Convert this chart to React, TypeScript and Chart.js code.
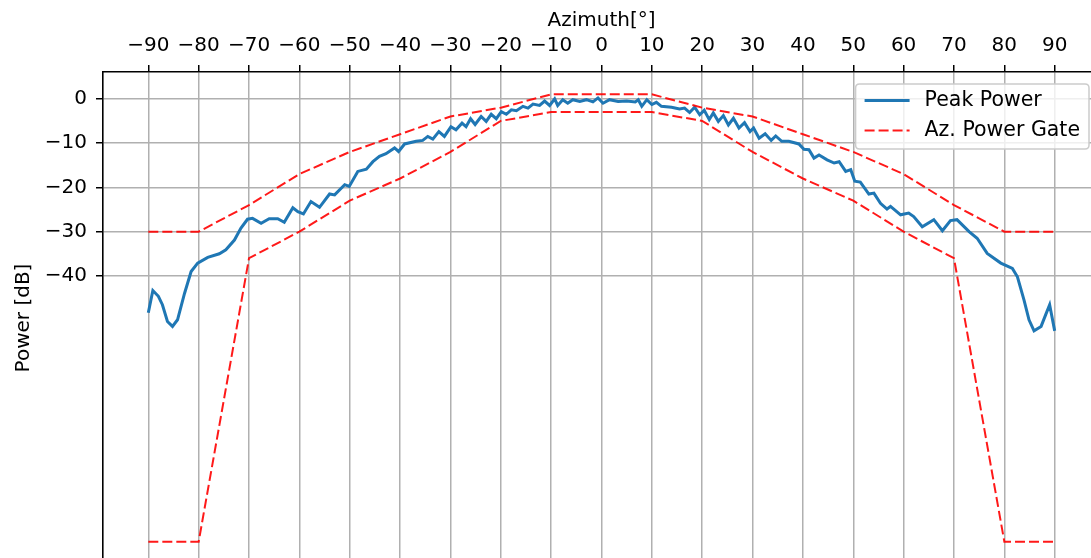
import React, { useEffect, useRef } from "react";
import { Chart, registerables } from "chart.js";

Chart.register(...registerables);

// Peak power measurement
const azimuth = [
  -90, -89.1, -88, -87.2, -86.2, -85.2, -84.2, -82.8, -81.5, -80.2, -78.2, -75.9, -74.6, -72.9, -71.6, -70.3,
  -69.3, -67.6, -66, -64.3, -63, -61.3, -60.3, -59.2, -57.7, -56, -54, -53, -51, -50.1, -48.4, -46.7, -45.4,
  -44.1, -42.8, -41.1, -40.3, -39.1, -36.8, -35.5, -34.5, -33.5, -32.3, -31.2, -29.9, -28.9, -27.7, -26.9,
  -26.0, -25.1, -23.9, -22.9, -21.9, -20.9, -19.9, -18.9, -17.9, -16.9, -15.6, -14.6, -13.6, -12.3, -11.3,
  -10.3, -9.3, -8.7, -7.7, -6.7, -5.7, -4.3, -3.0, -1.7, -0.7, 0.3, 1.6, 3.3, 5.0, 6.7, 7.3, 8.0, 9.0, 10.0,
  10.9, 11.9, 13.9, 15.5, 16.5, 17.5, 18.5, 19.5, 20.4, 21.4, 22.2, 23.2, 24.2, 25.2, 26.2, 27.3, 28.4, 29.5,
  30.2, 31.3, 32.5, 33.7, 34.6, 35.8, 37.2, 39.2, 40.2, 41.2, 42.2, 43.2, 44.8, 46.2, 47.2, 48.5, 49.5, 50.3,
  51.4, 53.1, 54.1, 55.4, 56.7, 57.4, 59.4, 61.0, 62.0, 63.7, 66.0, 67.7, 69.3, 70.6, 73.0, 74.6, 76.6, 79.3,
  81.6, 82.6, 83.9, 84.9, 85.9, 87.3, 88.2, 89.0, 90.0,
];
const peakPower = [
  -48.3, -43.3, -44.6, -46.5, -50.3, -51.4, -49.9, -43.9, -39.0, -37.1, -35.8, -35.0, -34.1, -31.9, -29.2, -27.2,
  -27.0, -28.1, -27.1, -27.1, -27.9, -24.6, -25.5, -26.0, -23.2, -24.5, -21.5, -21.7, -19.4, -19.8, -16.4, -15.9, -14.2,
  -13.0, -12.4, -11.1, -11.9, -10.2, -9.6, -9.4, -8.5, -9.1, -7.4, -8.5, -6.3, -7.0, -5.5, -6.3,
  -4.5, -5.8, -4.0, -5.1, -3.5, -4.5, -2.9, -3.5, -2.5, -2.7, -1.7, -2.1, -1.2, -1.5, -0.5,
  -1.5, 0.0, -1.5, -0.2, -1.0, -0.2, -0.6, -0.2, -0.7, 0.2, -1.0, -0.2, -0.6, -0.5, -0.7, -0.2, -1.7, -0.2, -1.3,
  -0.8, -1.7, -1.9, -2.3, -2.1, -3.1, -1.9, -3.6, -2.6, -4.7, -3.2, -5.1, -3.8, -5.9, -4.4, -6.6, -5.4, -7.4,
  -6.6, -8.9, -7.9, -9.4, -8.4, -9.6, -9.6, -10.2, -11.4, -11.5, -13.4, -12.7, -13.8, -14.5, -14.2, -16.4, -16.0, -18.6,
  -18.8, -21.5, -21.3, -23.6, -24.9, -24.3, -26.2, -25.8, -26.6, -28.9, -27.3, -29.8, -27.5, -27.3, -30.0, -31.5, -34.9, -37.1,
  -38.3, -40.2, -45.4, -49.9, -52.4, -51.4, -48.8, -46.5, -52.4,
];

// Azimuth power gate
const gateAzimuth = [-90, -80, -70, -60, -50, -40, -30, -20, -10, 0, 10, 20, 30, 40, 50, 60, 70, 80, 90];
const gateUpper = [-30, -30, -24, -17, -12, -8, -4, -2, 1, 1, 1, -2, -4, -8, -12, -17, -24, -30, -30];
const gateLower = [-100, -100, -36, -30, -23, -18, -12, -5, -3, -3, -3, -5, -12, -18, -23, -30, -36, -100, -100];

const xTicks = [-90, -80, -70, -60, -50, -40, -30, -20, -10, 0, 10, 20, 30, 40, 50, 60, 70, 80, 90];
const yTicks = [0, -10, -20, -30, -40];

const seriesNames = ["Peak Power", "Az. Power Gate"];

const FONT = "'DejaVu Sans', sans-serif";
const BLUE = "#1f77b4";
const RED = "rgba(255,0,0,0.9)";

const legendPlugin = {
  id: "mplLegend",
  afterDraw(chart: any) {
    const ctx = chart.ctx;
    const area = chart.chartArea;
    ctx.save();
    ctx.font = `20.5px ${FONT}`;
    const tw = Math.max(...seriesNames.map((s) => ctx.measureText(s).width));
    const w = 8 + 45 + 15 + tw + 10;
    const h = 65;
    const right = area.right - 11;
    const left = right - w;
    const top = area.top + 12;
    // frame
    ctx.beginPath();
    const r = 4;
    ctx.moveTo(left + r, top);
    ctx.lineTo(left + w - r, top);
    ctx.quadraticCurveTo(left + w, top, left + w, top + r);
    ctx.lineTo(left + w, top + h - r);
    ctx.quadraticCurveTo(left + w, top + h, left + w - r, top + h);
    ctx.lineTo(left + r, top + h);
    ctx.quadraticCurveTo(left, top + h, left, top + h - r);
    ctx.lineTo(left, top + r);
    ctx.quadraticCurveTo(left, top, left + r, top);
    ctx.closePath();
    ctx.fillStyle = "rgba(255,255,255,0.8)";
    ctx.fill();
    ctx.strokeStyle = "#cccccc";
    ctx.lineWidth = 1.5;
    ctx.stroke();
    // rows
    const rows = [top + 16.5, top + 46.5];
    const styles = [
      { color: BLUE, width: 3, dash: [] as number[] },
      { color: RED, width: 2, dash: [10, 4] },
    ];
    rows.forEach((y, i) => {
      ctx.beginPath();
      ctx.setLineDash(styles[i].dash);
      ctx.strokeStyle = styles[i].color;
      ctx.lineWidth = styles[i].width;
      ctx.moveTo(left + 9, y);
      ctx.lineTo(left + 54, y);
      ctx.stroke();
      ctx.setLineDash([]);
      ctx.fillStyle = "#000";
      ctx.textBaseline = "middle";
      ctx.textAlign = "left";
      ctx.fillText(seriesNames[i], left + 69, y);
    });
    ctx.restore();
  },
};

const minus = (v: any) => (Number(v) < 0 ? "\u2212" + Math.abs(Number(v)) : String(v));

export default function App() {
  const ref = useRef<HTMLCanvasElement | null>(null);

  useEffect(() => {
    if (!ref.current) return;
    const peak = azimuth.map((x, i) => ({ x, y: peakPower[i] }));
    const upper = gateAzimuth.map((x, i) => ({ x, y: gateUpper[i] }));
    const lower = gateAzimuth.map((x, i) => ({ x, y: gateLower[i] }));
    const chart = new Chart(ref.current, {
      type: "line",
      data: {
        datasets: [
          {
            label: seriesNames[0],
            data: peak,
            borderColor: BLUE,
            borderWidth: 3,
            pointRadius: 0,
            tension: 0,
            order: 1,
          },
          {
            label: seriesNames[1],
            data: upper,
            borderColor: RED,
            borderWidth: 2,
            borderDash: [10, 4],
            pointRadius: 0,
            tension: 0,
            order: 0,
          },
          {
            label: seriesNames[1] + " (lower)",
            data: lower,
            borderColor: RED,
            borderWidth: 2,
            borderDash: [10, 4],
            pointRadius: 0,
            tension: 0,
            order: 0,
          },
        ],
      },
      options: {
        responsive: false,
        animation: false,
        parsing: false as any,
        layout: { padding: 0 },
        plugins: {
          legend: { display: false },
          tooltip: { enabled: false },
        },
        scales: {
          x: {
            type: "linear",
            position: "top",
            min: -99,
            max: 99,
            afterBuildTicks: (axis: any) => {
              axis.ticks = xTicks.map((v) => ({ value: v }));
            },
            afterFit: (axis: any) => {
              axis.height = 72;
              axis.paddingLeft = 0;
              axis.paddingRight = 0;
            },
            ticks: {
              color: "#000",
              font: { family: FONT, size: 20 },
              padding: 7,
              maxRotation: 0,
              autoSkip: false,
              callback: minus,
            },
            grid: {
              color: "#b0b0b0",
              lineWidth: 1.5,
              tickLength: 7,
              tickColor: "#000",
              tickWidth: 1.5,
            },
            border: { display: true, color: "#000", width: 1.6 },
            title: {
              display: true,
              text: "Azimuth[°]",
              color: "#000",
              font: { family: FONT, size: 20 },
              padding: { top: 9, bottom: 0 },
            },
          },
          y: {
            type: "linear",
            position: "left",
            min: -105.05,
            max: 6.05,
            afterBuildTicks: (axis: any) => {
              axis.ticks = yTicks.map((v) => ({ value: v }));
            },
            afterFit: (axis: any) => {
              axis.width = 103;
              axis.paddingTop = 0;
              axis.paddingBottom = 0;
            },
            ticks: {
              color: "#000",
              font: { family: FONT, size: 20 },
              padding: 9,
              autoSkip: false,
              callback: minus,
            },
            grid: {
              color: "#b0b0b0",
              lineWidth: 1.5,
              tickLength: 7,
              tickColor: "#000",
              tickWidth: 1.5,
            },
            border: { display: true, color: "#000", width: 1.6 },
            title: {
              display: true,
              text: "Power [dB]",
              color: "#000",
              font: { family: FONT, size: 20 },
              padding: { top: 12, bottom: 0 },
            },
          },
        },
      },
      plugins: [legendPlugin],
    });
    return () => chart.destroy();
  }, []);

  return (
    <div style={{ position: "fixed", left: 0, top: 0, width: "100vw", height: "100vh", overflow: "hidden", background: "#fff" }}>
      <canvas ref={ref} width={1100} height={564} style={{ display: "block", position: "absolute", left: 0, top: 0 }} />
    </div>
  );
}
